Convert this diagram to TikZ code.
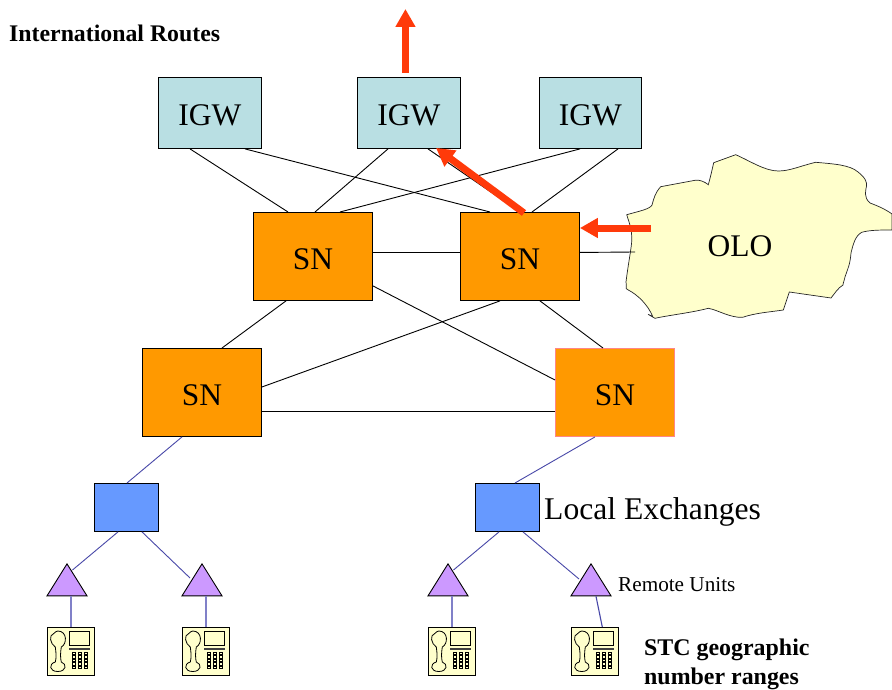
\documentclass[tikz,border=0pt]{standalone}
\usepackage{fontspec}
\setmainfont{Liberation Serif}
\usetikzlibrary{arrows.meta,shapes.geometric,shadows}
\definecolor{igwc}{HTML}{B9DFE3}
\definecolor{snc}{HTML}{FF9900}
\definecolor{lec}{HTML}{6699FF}
\definecolor{triC}{HTML}{CC99FF}
\definecolor{phc}{HTML}{FFFFCC}
\definecolor{redc}{HTML}{FF3A0A}
\definecolor{bluel}{HTML}{4848A8}
\definecolor{lavl}{HTML}{8080C8}
\tikzset{
  plainbox/.style={draw=black,line width=0.9pt,anchor=north west,inner sep=0pt},
  boxbase/.style={plainbox,general shadow={fill=black!40,shadow xshift=0.8pt,shadow yshift=-0.8pt}},
  igw/.style={boxbase,fill=igwc,minimum width=103pt,minimum height=71pt,text height=26pt,text depth=0pt,font=\fontsize{31.5}{32}\selectfont},
  sn/.style={boxbase,fill=snc,minimum width=119pt,minimum height=88pt,text height=26pt,text depth=0pt,font=\fontsize{31.5}{32}\selectfont},
  snpink/.style={plainbox,draw=pink!70!red,fill=snc,minimum width=119pt,minimum height=88pt,text height=26pt,text depth=0pt,font=\fontsize{31.5}{32}\selectfont},
  lex/.style={boxbase,fill=lec,minimum width=64pt,minimum height=48pt},
  remote/.style={draw=black,line width=0.9pt,fill=triC,isosceles triangle,shape border rotate=90,
    isosceles triangle apex angle=64,isosceles triangle stretches,minimum width=40pt,minimum height=32pt,inner sep=0pt,anchor=apex},
  phonebody/.style={draw=black,line width=0.8pt,fill=phc,anchor=north west,minimum width=47pt,minimum height=47.5pt,inner sep=0pt,
    general shadow={fill=black!35,shadow xshift=0.7pt,shadow yshift=-0.7pt}},
  link/.style={black,line width=0.9pt},
  lowlink/.style={bluel,line width=0.9pt},
  phlink/.style={lavl,line width=1.6pt},
  redarrow/.style={redc,line width=7pt,-{Triangle[width=19pt,length=18pt]}},
  lbl/.style={anchor=base west,inner sep=0pt},
}
\newcommand{\phoneset}[3]{%
  \node[phonebody] (#1) at (#2,#3) {};
  \begin{scope}[shift={(#2,#3)},line width=0.8pt]
    \draw[fill=phc] (6.5,6.5) .. controls (1,8) and (3,17) .. (8,20) .. controls (9,27) and (9,31) .. (8,35)
      .. controls (1,37) and (2,44.5) .. (10.5,44.5) .. controls (19,44.5) and (20,37) .. (14,35)
      .. controls (13,31) and (13,26) .. (14,20) .. controls (20,17) and (20,4) .. (10.5,4) .. controls (9,4) and (7.5,5.5) .. (6.5,6.5) -- cycle;
    \draw[fill=phc] (22,4) rectangle (42.5,18.5);
    \fill[black!75] (22,20.5) rectangle (42.5,22.5);
    \foreach \kx in {25,31,37}{\foreach \ky in {25,28.5,32,35.5,39}{
      \draw[line width=0.6pt,fill=phc] (\kx,\ky) rectangle +(3,2.4);}}
  \end{scope}%
}
\begin{document}
\begin{tikzpicture}[x=1pt,y=-1pt]
\useasboundingbox (0,0) rectangle (892,690);
\fill[white] (0,0) rectangle (892,690);
% OLO
\draw[fill=phc,line width=0.7pt,draw=black!85] (626.7,214.7)
  .. controls (640,211) and (650,209) .. (652,205)
  .. controls (654,198) and (655,193) .. (660.7,186.7)
  -- (695,180.3) .. controls (700,179.5) and (705,182) .. (708.3,184.7)
  .. controls (711,175) and (712,170) .. (713.7,162.7)
  -- (735.7,154.7) .. controls (750,161) and (765,171) .. (778.3,171)
  .. controls (790,171) and (800,166) .. (815.7,162.3)
  .. controls (835,164) and (850,165) .. (858,172)
  .. controls (866,178) and (867,183) .. (866.5,186)
  .. controls (866,190) and (863,197) .. (870,203)
  .. controls (878,206) and (885,209) .. (892,214)
  -- (892,230) .. controls (880,230) and (870,230) .. (861.7,232.3)
  .. controls (855,236) and (853,245) .. (851,253)
  .. controls (850,265) and (848,268) .. (845,277)
  .. controls (843,285) and (843,283) .. (843,285)
  .. controls (838,288) and (835,293) .. (831,298)
  -- (789.3,292) -- (783.3,310)
  .. controls (770,312) and (755,313) .. (742.7,317.3)
  .. controls (730,318) and (718,310) .. (708.3,308.3)
  .. controls (690,313) and (670,315) .. (655,318.3)
  -- (648,314.3) -- (652.7,316.5)
  .. controls (648,305) and (638,295) .. (628.3,290)
  .. controls (625,289) and (627,290) .. (626,282)
  .. controls (628,265) and (632,245) .. (631.7,240)
  .. controls (632,230) and (630,225) .. (626.7,214.7) -- cycle;
\node[font=\fontsize{31.5}{32}\selectfont,inner sep=0pt] (olo) at (740,246) {OLO};
% boxes
\node[igw] (i1) at (158,77) {IGW};
\node[igw] (i2) at (357,77) {IGW};
\node[igw,minimum width=102pt] (i3) at (539,77) {IGW};
\node[sn] (s1) at (253,212) {SN};
\node[sn] (s2) at (460,212) {SN};
\node[sn] (s3) at (142,348) {SN};
\node[snpink] (s4) at (555,348) {SN};
\node[lex] (l1) at (94,483) {};
\node[lex] (l2) at (475,483) {};
\node[remote] (t1) at (67,563) {};
\node[remote] (t2) at (202,563) {};
\node[remote] (t3) at (448,563) {};
\node[remote] (t4) at (591,563) {};
\phoneset{p1}{47.3}{627}
\phoneset{p2}{182.3}{627}
\phoneset{p3}{428.3}{627}
\phoneset{p4}{571.3}{627}
% links
\coordinate (oloend) at (635,252);
\draw[link] ([xshift=32pt]i1.south west) -- ([xshift=35pt]s1.north west);
\draw[link] ([xshift=87pt]i1.south west) -- ([xshift=30pt]s2.north west);
\draw[link] ([xshift=31pt]i2.south west) -- ([xshift=62pt]s1.north west);
\draw[link] ([xshift=71pt]i2.south west) -- ([xshift=60pt]s2.north west);
\draw[link] ([xshift=41pt]i3.south west) -- ([xshift=87pt]s1.north west);
\draw[link] ([xshift=79pt]i3.south west) -- ([xshift=72pt]s2.north west);
\draw[link] ([yshift=4pt]s1.east) -- ([yshift=4pt]s2.west);
\draw[link] ([yshift=4pt]s2.east) -- (oloend);
\draw[link] ([xshift=33pt]s1.south west) -- ([xshift=80pt]s3.north west);
\draw[link] ([yshift=15pt]s1.south east) -- ([yshift=-32pt]s4.north west);
\draw[link] ([xshift=40pt]s2.south west) -- ([yshift=-39pt]s3.north east);
\draw[link] ([xshift=80pt]s2.south west) -- ([xshift=48pt]s4.north west);
\draw[link] ([yshift=-63pt]s3.north east) -- ([yshift=-63pt]s4.north west);
\draw[lowlink] ([xshift=40pt]s3.south west) -- ([xshift=33pt]l1.north west);
\draw[lowlink] ([xshift=40pt]s4.south west) -- ([xshift=40pt]l2.north west);
\draw[lowlink] ([xshift=24pt]l1.south west) -- ([xshift=5.5pt,yshift=-7pt]t1.apex);
\draw[lowlink] ([xshift=48pt]l1.south west) -- ([xshift=-12pt,yshift=-15pt]t2.apex);
\draw[lowlink] ([xshift=24pt]l2.south west) -- ([xshift=5.5pt,yshift=-7pt]t3.apex);
\draw[lowlink] ([xshift=48pt]l2.south west) -- ([xshift=-12pt,yshift=-16pt]t4.apex);
\draw[phlink] ([xshift=3.8pt]t1.south) -- ([xshift=23.5pt]p1.north west);
\draw[phlink] ([xshift=3.8pt]t2.south) -- ([xshift=23.5pt]p2.north west);
\draw[phlink] ([xshift=3.8pt]t3.south) -- ([xshift=23.5pt]p3.north west);
\draw[lowlink,line width=1.1pt] ([xshift=5pt]t4.south) -- ([xshift=31pt]p4.north west);
% red arrows
\coordinate (intl) at (405,9);
\coordinate (olofrom) at (651,228);
\draw[redarrow] ([xshift=-3.5pt,yshift=4pt]i2.north) -- ([xshift=-3.5pt]i2.north |- intl);
\draw[redarrow] ([xshift=64pt,yshift=-1pt]s2.north west) -- ([xshift=79pt,yshift=1pt]i2.south west);
\draw[redarrow] (olofrom) -- (s2.north east |- olofrom);
% labels
\node[lbl,font=\bfseries\fontsize{23.8}{24}\selectfont] (intlab) at (9,42) {International Routes};
\node[lbl,font=\fontsize{31.6}{32}\selectfont] (lelab) at (544,519) {Local Exchanges};
\node[lbl,font=\fontsize{21.2}{22}\selectfont] (rulab) at (618,591) {Remote Units};
\node[lbl,font=\bfseries\fontsize{23.9}{24}\selectfont] (stc1) at (644,655) {STC geographic};
\node[lbl,font=\bfseries\fontsize{23.9}{24}\selectfont] (stc2) at (644,684) {number ranges};
\end{tikzpicture}
\end{document}
